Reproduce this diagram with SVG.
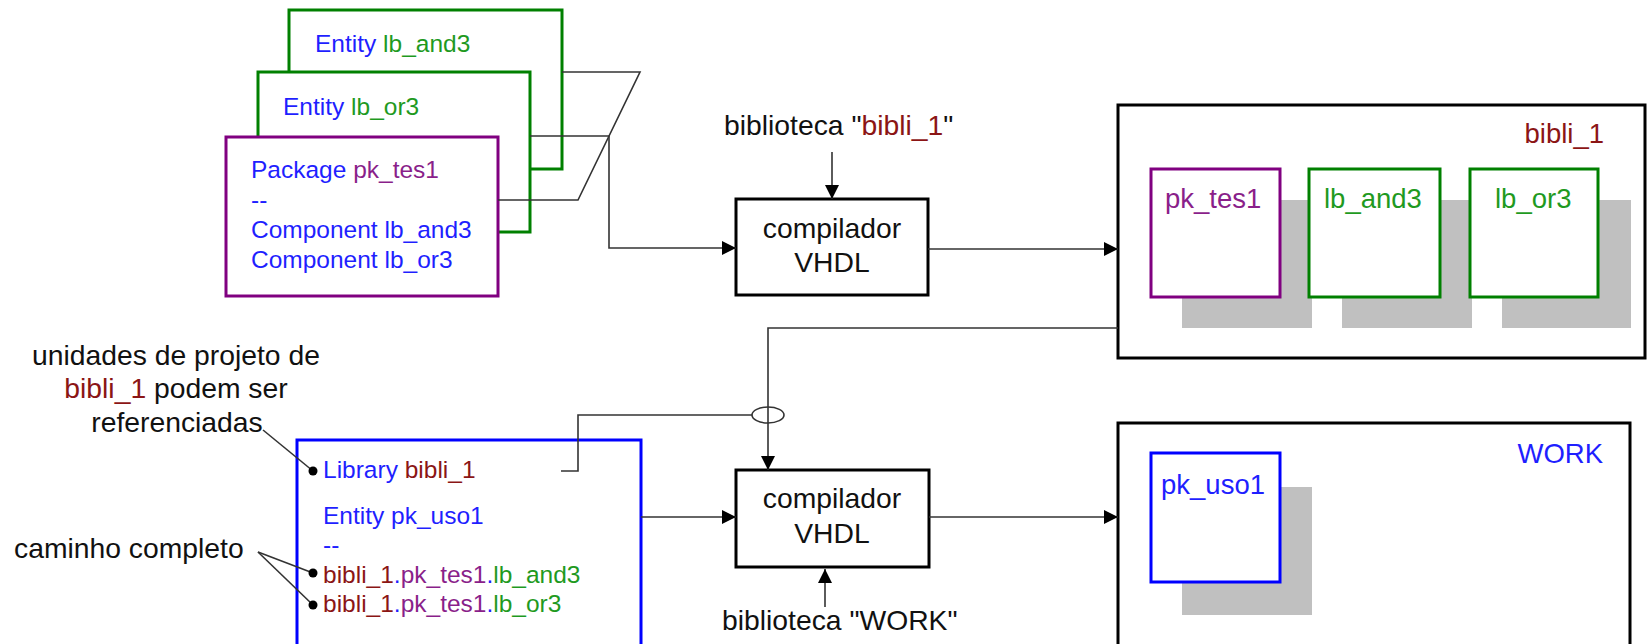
<svg xmlns="http://www.w3.org/2000/svg" width="1648" height="644" viewBox="0 0 1648 644">
<defs>
<style>
text{font-family:"Liberation Sans",Arial,sans-serif}
.t24{font-size:24.5px}
.t26{font-size:27.5px}
.t28{font-size:28.3px;fill:#111}
.b{fill:#1f1fff}
.g{fill:#1f9a1f}
.p{fill:#8a1f8a}
.r{fill:#8b1515}
.box{fill:#fff;stroke-width:3}
.kbox{fill:#fff;stroke:#000;stroke-width:3}
.gb{stroke:#008000}
.pb{stroke:#800080}
.bb{stroke:#0000ff}
.sh{fill:#c0c0c0}
.c{fill:none;stroke:#333;stroke-width:1.6}
.dot{fill:#000}
</style>
<marker id="ah" viewBox="0 0 14 14" refX="14" refY="7" markerWidth="14" markerHeight="14" markerUnits="userSpaceOnUse" orient="auto">
<path d="M0,0 L14,7 L0,14 Z" fill="#000"/>
</marker>
</defs>
<rect width="1648" height="644" fill="#fff"/>

<g id="entity_lb_and3">
<rect class="box gb" x="289" y="10" width="273" height="159"/>
<text class="t24" x="315" y="52"><tspan class="b">Entity </tspan><tspan class="g">lb_and3</tspan></text>
</g>
<g id="entity_lb_or3">
<rect class="box gb" x="258" y="72" width="272" height="160"/>
<text class="t24" x="283" y="115"><tspan class="b">Entity </tspan><tspan class="g">lb_or3</tspan></text>
</g>
<g id="package_pk_tes1">
<rect class="box pb" x="226" y="137" width="272" height="159"/>
<text class="t24" x="251" y="178"><tspan class="b">Package </tspan><tspan class="p">pk_tes1</tspan></text>
<text class="t24 b" x="251" y="208">--</text>
<text class="t24 b" x="251" y="238">Component lb_and3</text>
<text class="t24 b" x="251" y="268">Component lb_or3</text>
</g>

<g id="compiler1">
<rect class="kbox" x="736" y="199" width="192" height="96"/>
<text class="t28" x="832" y="238" text-anchor="middle">compilador</text>
<text class="t28" x="832" y="272" text-anchor="middle">VHDL</text>
</g>
<g id="label_bibli1">
<text class="t28" x="724" y="135">biblioteca "<tspan class="r">bibli_1</tspan>"</text>
</g>

<g id="lib_bibli_1">
<rect class="kbox" x="1118" y="105" width="527" height="253"/>
<text class="t26 r" x="1604" y="143" text-anchor="end">bibli_1</text>
<rect class="sh" x="1182" y="200" width="130" height="128"/>
<rect class="sh" x="1342" y="200" width="130" height="128"/>
<rect class="sh" x="1502" y="200" width="129" height="128"/>
<rect class="box pb" x="1151" y="169" width="129" height="128"/>
<rect class="box gb" x="1309" y="169" width="131" height="128"/>
<rect class="box gb" x="1470" y="169" width="128" height="128"/>
<text class="t26 p" x="1165" y="208">pk_tes1</text>
<text class="t26 g" x="1324" y="208">lb_and3</text>
<text class="t26 g" x="1495" y="208">lb_or3</text>
</g>

<g id="note_referencias">
<text class="t28" x="176" y="365" text-anchor="middle">unidades de projeto de</text>
<text class="t28" x="176" y="398" text-anchor="middle"><tspan class="r">bibli_1</tspan> podem ser</text>
<text class="t28" x="177" y="432" text-anchor="middle">referenciadas</text>
</g>
<g id="note_caminho">
<text class="t28" x="14" y="558">caminho completo</text>
</g>

<g id="entity_pk_uso1">
<rect class="box bb" x="297" y="440" width="344" height="230"/>
<text class="t24" x="323" y="478"><tspan class="b">Library </tspan><tspan class="r">bibli_1</tspan></text>
<text class="t24 b" x="323" y="524">Entity pk_uso1</text>
<text class="t24 b" x="323" y="553">--</text>
<text class="t24" x="323" y="583"><tspan class="r">bibli_1</tspan><tspan class="b">.</tspan><tspan class="p">pk_tes1</tspan><tspan class="b">.</tspan><tspan class="g">lb_and3</tspan></text>
<text class="t24" x="323" y="612"><tspan class="r">bibli_1</tspan><tspan class="b">.</tspan><tspan class="p">pk_tes1</tspan><tspan class="b">.</tspan><tspan class="g">lb_or3</tspan></text>
</g>

<g id="compiler2">
<rect class="kbox" x="736" y="470" width="193" height="97"/>
<text class="t28" x="832" y="508" text-anchor="middle">compilador</text>
<text class="t28" x="832" y="543" text-anchor="middle">VHDL</text>
</g>
<g id="label_work">
<text class="t28" x="722" y="630">biblioteca "WORK"</text>
</g>

<g id="lib_work">
<rect class="kbox" x="1118" y="423" width="512" height="240"/>
<text class="t26 b" x="1603" y="463" text-anchor="end">WORK</text>
<rect class="sh" x="1182" y="487" width="130" height="128"/>
<rect class="box bb" x="1151" y="453" width="129" height="129"/>
<text class="t26 b" x="1161" y="494">pk_uso1</text>
</g>

<g id="connectors">
<polyline class="c" points="562,72 640,72 578,200 498,200"/>
<polyline class="c" points="530,136 609,136 609,248 736,248" marker-end="url(#ah)"/>
<line class="c" x1="832" y1="152" x2="832" y2="199" marker-end="url(#ah)"/>
<line class="c" x1="928" y1="249" x2="1118" y2="249" marker-end="url(#ah)"/>
<polyline class="c" points="1118,328 768,328 768,470" marker-end="url(#ah)"/>
<polyline class="c" points="561,471 578,471 578,415 752,415"/>
<ellipse class="c" cx="768" cy="415" rx="16" ry="8"/>
<line class="c" x1="641" y1="517" x2="736" y2="517" marker-end="url(#ah)"/>
<line class="c" x1="825" y1="607" x2="825" y2="569" marker-end="url(#ah)"/>
<line class="c" x1="929" y1="517" x2="1118" y2="517" marker-end="url(#ah)"/>
<line class="c" x1="263" y1="430" x2="313" y2="471"/>
<line class="c" x1="258" y1="552" x2="313" y2="573"/>
<line class="c" x1="258" y1="552" x2="313" y2="605"/>
<circle class="dot" cx="313" cy="471" r="4.5"/>
<circle class="dot" cx="313" cy="573" r="4.5"/>
<circle class="dot" cx="313" cy="605" r="4.5"/>
</g>
</svg>
